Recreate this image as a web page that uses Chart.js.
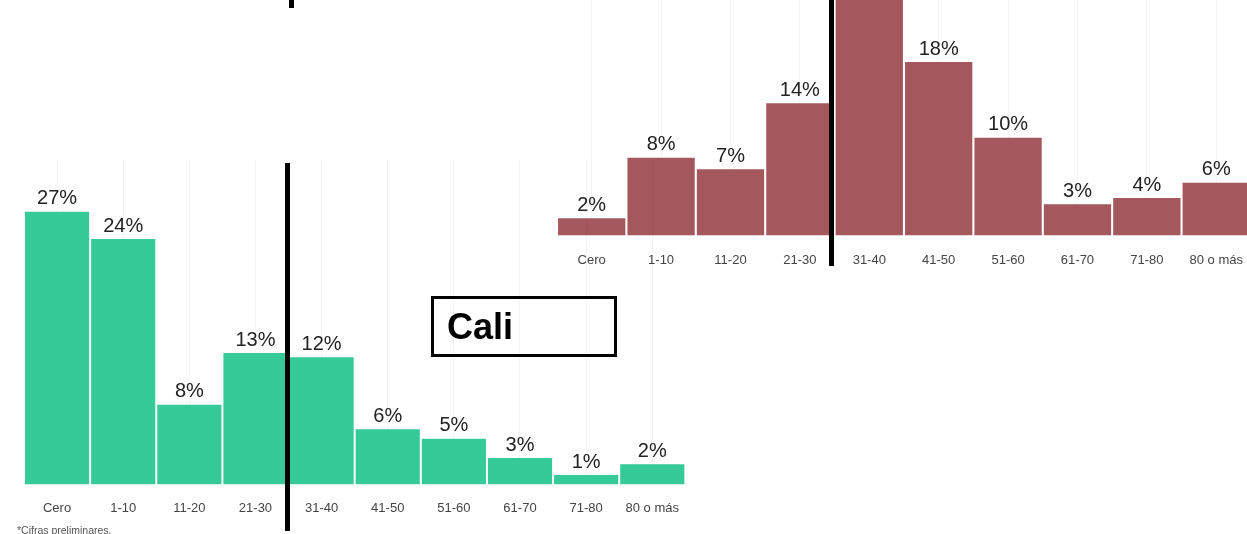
<!DOCTYPE html>
<html>
<head>
<meta charset="utf-8">
<script src="https://cdn.jsdelivr.net/npm/chart.js@4"></script>
<style>
body{margin:0;width:1247px;height:534px;overflow:hidden;background:#fff;position:relative;font-family:"Liberation Sans",Arial,sans-serif;}
canvas{position:absolute;}
.vline{position:absolute;background:#000;width:5px;}
#cali{position:absolute;left:431px;top:296px;width:186px;height:61px;border:3px solid #000;box-sizing:border-box;font-weight:bold;font-size:36px;line-height:55px;padding-left:13px;}
#note{position:absolute;left:17px;top:524px;font-size:10.5px;color:#555;}
</style>
</head>
<body>

<canvas id="redChart" width="703" height="337" style="left:557px;top:-52px;"></canvas>
<canvas id="greenChart" width="671" height="372" style="left:24px;top:160px;"></canvas>

<div class="vline" style="left:829px;top:0;height:266px;"></div>
<div class="vline" style="left:285px;top:163px;height:368px;"></div>
<div class="vline" style="left:289px;top:0;height:8px;"></div>
<div id="cali">Cali</div>
<div id="note">*Cifras preliminares.</div>

<script>
// categories
const edades=["Cero","1-10","11-20","21-30","31-40","41-50","51-60","61-70","71-80","80 o más"];

// Cali (green) - bar heights, printed labels
const caliPct=[26.9,24.2,7.85,12.95,12.55,5.45,4.5,2.6,0.92,2.0];
const caliTxt=["27%","24%","8%","13%","12%","6%","5%","3%","1%","2%"];

// other city (red), 31-40 is cut off at the top (estimate)
const otraPct=[1.8,8.1,6.9,13.8,28,18.1,10.2,3.25,3.9,5.5];
const otraTxt=["2%","8%","7%","14%","28%","18%","10%","3%","4%","6%"];

// LABELS ON TOP OF BARS
const pctLabels={
    id:"pctLabels",
    afterDatasetsDraw(chart){
        const ctx=chart.ctx;
        const meta=chart.getDatasetMeta(0);
        const txt=chart.options.plugins.pctLabels.text;
        ctx.save();
        ctx.font="20px 'Liberation Sans', Arial, sans-serif";
        ctx.fillStyle="#222";
        ctx.textAlign="center";
        ctx.textBaseline="bottom";
        meta.data.forEach((bar,i)=>{
            ctx.fillText(txt[i],bar.x,bar.y-3);
        });
        ctx.restore();
    }
};

function makeChart(id,data,txt,color,maxY,pad){
    return new Chart(document.getElementById(id),{
        type:"bar",
        data:{labels:edades,datasets:[{data:data,backgroundColor:color,barPercentage:0.97,categoryPercentage:1}]},
        options:{
            responsive:false,
            animation:false,
            layout:{padding:0},
            plugins:{legend:{display:false},tooltip:{enabled:false},pctLabels:{text:txt}},
            scales:{
                x:{
                    grid:{display:true,offset:false,drawTicks:false,color:"rgba(0,0,0,0.045)"},
                    border:{display:false},
                    ticks:{padding:pad,color:"#444",maxRotation:0,font:{family:"'Liberation Sans', Arial, sans-serif",size:13}}
                },
                y:{display:false,min:0,max:maxY}
            }
        },
        plugins:[pctLabels]
    });
}

makeChart("greenChart",caliPct,caliTxt,"#35ca97",32,16);
makeChart("redChart",otraPct,otraTxt,"#a4585e",30,17);
</script>
</body>
</html>
